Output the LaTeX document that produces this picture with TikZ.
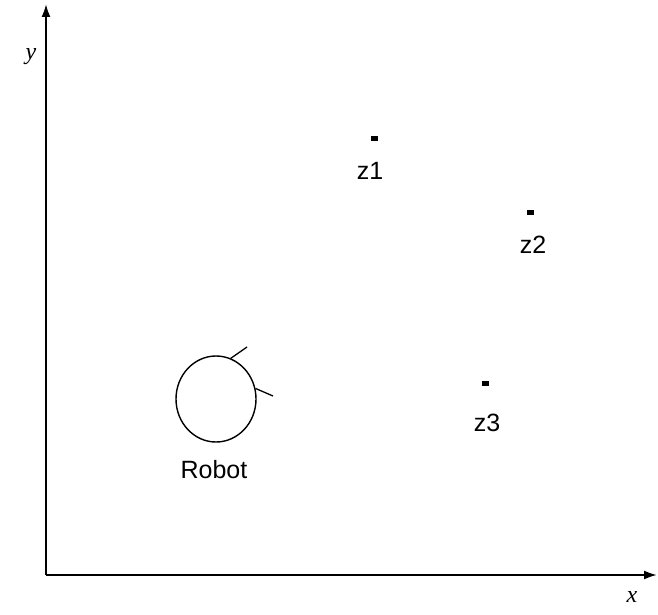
\documentclass[tikz,border=0pt]{standalone}
\usepackage{fontspec}
\setmainfont{Liberation Sans}
\newfontfamily\axisfont{Liberation Serif}
\usetikzlibrary{arrows.meta,shapes.geometric}
\tikzset{
  axis/.style={line width=2pt, -{Latex[length=13pt,width=9pt]}},
  ptdot/.style={rectangle, fill=black, inner sep=0pt, minimum width=7pt, minimum height=5pt},
  lbl/.style={font=\fontsize{25}{29}\selectfont, inner sep=0pt},
  axlbl/.style={font=\axisfont\itshape\fontsize{24}{28}\selectfont, inner sep=0pt},
  robotbody/.style={draw, line width=1.4pt, ellipse, minimum width=80pt, minimum height=86pt, inner sep=0pt},
  antenna/.style={line width=1.3pt}
}
\begin{document}
\begin{tikzpicture}[x=1pt,y=-1pt]
\useasboundingbox (0,0) rectangle (658,615);
\coordinate (O) at (46,575);
\coordinate (ytip) at (46,4);
\coordinate (xtip) at (657,575);
\draw[axis] (O) -- (ytip);
\draw[axis] (O) -- (xtip);
\node[axlbl] (ylab) at (31,57) {y};
\node[axlbl] (xlab) at (632,597) {x};
\node[ptdot] (z1) at (374,138) {};
\node[lbl] (z1l) at (370,171) {z1};
\node[ptdot] (z2) at (530,212) {};
\node[lbl] (z2l) at (533,245) {z2};
\node[ptdot] (z3) at (485,383) {};
\node[lbl] (z3l) at (487,423) {z3};
\node[robotbody] (robot) at (216,399) {};
\coordinate (a1) at (247,347);
\coordinate (a2) at (273,396);
\draw[antenna] (robot.70) -- (a1);
\draw[antenna] (robot.15) -- (a2);
\node[lbl] (robotl) at (214,470) {Robot};
\end{tikzpicture}
\end{document}
